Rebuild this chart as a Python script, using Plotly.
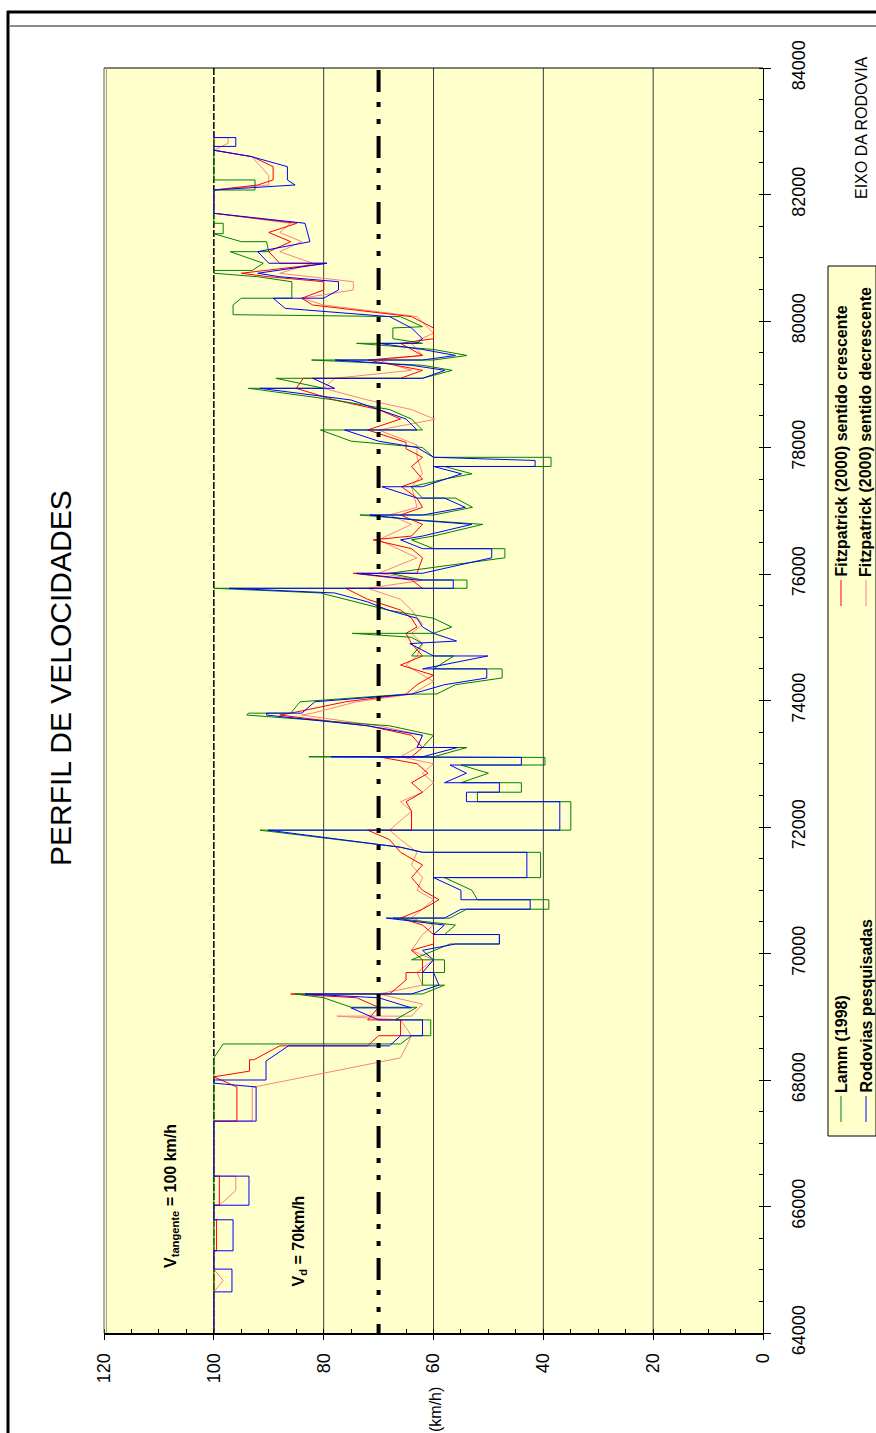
import plotly.graph_objects as go

W, H = 876, 1433
FONT = "Arial, Liberation Sans, sans-serif"

# ---------------- data ----------------
SPEED_TICKS = [0, 20, 40, 60, 80, 100, 120]
STATION_TICKS = list(range(64000, 84001, 2000))
GRID_SPEEDS = [20, 40, 60, 80]
V_TANGENTE = 100
V_D = 70

# (station m, speed km/h)
LAMM = [(64000,100),(68350,100),(68570,98.3),(68570,66),(68700,64),(68700,60.5),(68950,60.5),(68950,67),(69150,63),(69150,75),(69300,80),(69360,85.2),(69360,62),(69500,58),(69500,62),(69700,62),(69700,58),(69900,58),(69900,64),(70050,60),(70150,57),(70150,48),(70300,48),(70300,58),(70450,56),(70560,67.3),(70560,57),(70700,54),(70700,39),(70850,39),(70850,52),(71000,53),(71200,58),(71200,40.5),(71600,40.5),(71600,62),(71680,66),(71950,91.6),(71950,35),(72400,35),(72400,52),(72550,52),(72550,44),(72700,44),(72700,55),(72850,50),(72980,55),(72980,39.7),(73100,39.7),(73110,82.7),(73110,60),(73257,53.9),(73257,62),(73450,60),(73600,68),(73770,94),(73800,93.7),(73800,86),(73980,84.3),(74100,65),(74103,59.4),(74250,56),(74356,47.5),(74500,47.5),(74500,60),(74704,56.3),(74704,64),(74900,62),(75000,64),(75062,74.8),(75062,60),(75162,56.7),(75300,60),(75430,68.3),(75560,74),(75700,80.6),(75774,100),(75774,53.9),(75905,53.9),(75905,62),(76011,68),(76100,60),(76256,47),(76400,47),(76400,60),(76540,64),(76600,60),(76785,51),(76850,62),(76933,73.4),(76933,60),(77054,52.9),(77200,56),(77200,62),(77380,64),(77500,58),(77584,53),(77700,58),(77700,38.6),(77845,38.6),(77845,60),(78000,62),(78100,75),(78277,80.6),(78277,62),(78450,64),(78600,68),(78751,78),(78936,93.7),(78936,80),(79094,88.7),(79094,62),(79220,56.6),(79300,62),(79383,82.2),(79383,60),(79455,53.9),(79550,60),(79647,74),(79647,62),(79720,67.4),(79890,67.4),(79910,62),(80069,66),(80100,96.5),(80253,96.5),(80360,95),(80360,85.8),(80621,85.8),(80700,92),(80755,100),(80800,100),(80800,93),(80913,91),(81096,97),(81096,90),(81254,90.4),(81254,95),(81380,100),(81380,98.3),(81545,98.3),(81545,100),(82071,100),(82071,92.5),(82230,92.5),(82230,100),(82993,100)]

RODOVIAS = [(64000,100),(64650,100),(64650,96.7),(65010,96.7),(65010,100),(65300,100),(65300,96.5),(65790,96.5),(65790,100),(66020,100),(66020,93.6),(66480,93.6),(66480,100),(67350,100),(67350,92.3),(67890,92.3),(67950,100),(68000,100),(68000,90.5),(68300,90.5),(68540,86.4),(68540,68),(68700,66),(68700,62),(68950,62),(68950,70),(69140,75),(69140,64),(69300,70),(69360,83.4),(69360,64),(69500,59),(69700,60),(69700,62),(69900,60),(70050,62),(70150,56),(70150,48),(70300,48),(70300,60),(70450,58),(70560,68.6),(70560,58),(70700,55),(70700,42.4),(70850,42.4),(70850,55),(71000,55),(71200,60),(71200,43),(71600,43),(71600,62),(71680,66),(71950,90.1),(71950,37),(72400,37),(72400,54),(72550,54),(72550,48),(72700,48),(72700,58),(72850,54),(72980,57),(72980,44),(73100,44),(73110,78.6),(73110,62),(73257,55.6),(73257,63),(73450,62),(73600,72),(73770,90.4),(73800,90.4),(73800,84),(73980,81.6),(74100,64),(74250,58),(74356,50.3),(74500,50.3),(74500,62),(74704,50.1),(74704,60),(74900,64.3),(74940,55.8),(75062,60),(75162,62),(75300,63),(75430,68.3),(75560,72),(75700,78),(75774,97.2),(75774,56.4),(75905,56.4),(75905,63),(76011,74),(76011,62),(76256,49.4),(76400,49.4),(76400,62),(76540,66),(76600,62),(76785,53),(76850,63),(76933,71.6),(76933,62),(77054,54.2),(77200,58),(77200,63),(77380,69.4),(77380,62),(77584,54.9),(77700,60),(77700,41.5),(77795,41.5),(77845,60),(78000,63),(78100,70),(78277,76.2),(78277,63),(78450,65),(78600,70),(78751,75),(78936,91.6),(78936,78),(79094,82),(79094,62),(79220,57.9),(79300,64),(79383,77.9),(79383,62),(79455,56),(79550,62),(79647,70),(79647,63),(79720,62),(79890,64),(80069,68),(80200,87),(80360,89.2),(80360,80),(80490,77.3),(80621,77.3),(80700,88),(80755,92),(80913,79.4),(80913,90),(81096,92),(81254,82.5),(81545,83.4),(81703,100),(82071,100),(82150,85.2),(82230,86.6),(82440,86.6),(82598,93.1),(82700,100),(82760,100),(82760,96),(82900,96),(82900,100),(82993,100)]

FITZ_CRESC = [(64000,100),(65300,100),(65300,99.5),(65790,99.5),(65790,100),(66020,100),(66020,99),(66480,99),(66480,100),(67350,100),(67350,95.8),(67890,95.8),(68050,100),(68140,93.5),(68320,93.5),(68320,92.7),(68540,88),(68540,72),(68700,70),(68700,66),(68950,66),(68950,72),(69150,70),(69300,74),(69360,86),(69360,68),(69580,65),(69700,65),(69700,62),(69900,62),(70050,64),(70150,60),(70300,60),(70450,62),(70560,66),(70700,62),(70850,59),(71000,62),(71200,64),(71400,62),(71600,66),(71800,68),(71950,72),(71950,64),(72250,64),(72400,65),(72550,62),(72700,64),(72850,61),(73000,63),(73110,70),(73110,64),(73257,62),(73450,64),(73600,72),(73770,88),(73800,86),(73980,76),(74100,65),(74250,63),(74400,60),(74560,66),(74704,62),(74900,64),(75062,65),(75162,63),(75300,64),(75430,66),(75600,72),(75774,76),(75774,62),(75905,64),(76011,74.6),(76011,63),(76256,62),(76400,64),(76540,71),(76600,64),(76785,62),(76933,66),(77054,62),(77200,63),(77380,65.8),(77500,62),(77700,64),(77845,62),(77980,65),(78080,65),(78277,72),(78450,66),(78600,70),(78751,78),(78936,85),(79094,83.7),(79094,66),(79220,62),(79383,72),(79455,62),(79647,66),(79720,60),(79890,60),(80069,64),(80253,82),(80360,84),(80490,80),(80621,80),(80700,90),(80755,95),(80913,79.4),(80913,88),(81096,90),(81254,86),(81400,90),(81545,84.9),(81703,100),(82071,100),(82150,92),(82230,89.2),(82440,89.2),(82598,93),(82700,100),(82993,100)]

FITZ_DECR = [(64000,100),(64650,100),(64830,98.3),(65010,100),(66020,100),(66020,99),(66250,96),(66480,96),(66480,100),(67350,100),(67350,93),(67890,93),(67890,92.6),(68350,66),(68700,64),(68950,66),(69010,77.6),(69010,64),(69200,62),(69360,70),(69500,62),(69700,63),(69900,60),(70050,64),(70300,62),(70450,60),(70560,64),(70700,62),(70850,60),(71000,63),(71200,62),(71400,64),(71600,63),(71800,66),(71950,68),(72250,64),(72400,66),(72550,62),(72700,60),(72850,62),(73000,60),(73110,66),(73257,63),(73450,62),(73600,70),(73770,84),(73800,82),(73980,74),(74100,64),(74300,60),(74560,65),(74704,63),(74900,62),(75062,64),(75200,62),(75430,64),(75600,66),(75774,72),(75900,62),(76011,70),(76256,63),(76540,70),(76785,64),(76933,68),(77054,63),(77380,64),(77584,62),(77845,63),(78040,63),(78277,70),(78444,59.7),(78600,64),(78751,72),(78936,80),(79094,78),(79220,64),(79383,70),(79455,62),(79647,64),(79807,60),(80069,63),(80253,80),(80360,84),(80490,74.6),(80621,74.6),(80755,88),(80913,82),(81096,88),(81254,84),(81400,88),(81545,86),(81703,100),(82071,100),(82150,90),(82300,90),(82598,93.1),(82700,100),(82810,97.4),(82900,97.4),(82900,100),(82993,100)]

SERIES = [
    ("Fitzpatrick (2000) sentido decrescente", FITZ_DECR, "#FF8080"),
    ("Fitzpatrick (2000) sentido crescente", FITZ_CRESC, "#FF0000"),
    ("Lamm (1998)", LAMM, "#008000"),
    ("Rodovias pesquisadas", RODOVIAS, "#0000FF"),
]

# ---------------- layout helpers (pixel -> paper) ----------------
def px(x):
    return x / W

def py(y):
    return 1 - y / H

PX0, PX1 = 104, 763   # plot left/right (px)
PY0, PY1 = 68, 1333   # plot top/bottom (px)

fig = go.Figure()
for name, pts, col in SERIES:
    fig.add_trace(go.Scatter(
        x=[p[1] for p in pts], y=[p[0] for p in pts], mode="lines", name=name,
        line=dict(color=col, width=1), hoverinfo="skip"))

fig.update_layout(
    width=W, height=H, margin=dict(l=0, r=0, t=0, b=0, autoexpand=False),
    paper_bgcolor="white", plot_bgcolor="#FFFFCC", showlegend=False,
    font=dict(family=FONT, color="black"),
    xaxis=dict(domain=[px(PX0), px(PX1)], range=[120, 0], tickvals=SPEED_TICKS,
               ticks="outside", ticklen=5, tickcolor="black", tickangle=-90,
               tickfont=dict(family=FONT, size=18, color="black"), automargin=False,
               showgrid=False, zeroline=False, showline=True, linecolor="black", linewidth=2,
               minor=dict(ticks="inside", dtick=5, tick0=0, ticklen=4, tickcolor="black"),
               ticklabelstandoff=6),
    yaxis=dict(domain=[py(PY1), py(PY0)], range=[64000, 84000], side="right",
               tickvals=STATION_TICKS, tickformat="d", ticks="outside", ticklen=7,
               tickcolor="black", tickangle=-90, automargin=False,
               tickfont=dict(family=FONT, size=18, color="black"),
               showgrid=False, zeroline=False, showline=True, linecolor="black", linewidth=1,
               minor=dict(ticks="inside", dtick=500, tick0=64000, ticklen=4, tickcolor="black"),
               ticklabelstandoff=12),
)

shapes = []
# page frame
shapes.append(dict(type="line", xref="paper", yref="paper", x0=px(7), x1=1.0, y0=py(12), y1=py(12), line=dict(color="black", width=3)))
shapes.append(dict(type="line", xref="paper", yref="paper", x0=px(8), x1=px(8), y0=py(11), y1=0.0, line=dict(color="black", width=3)))
shapes.append(dict(type="line", xref="paper", yref="paper", x0=px(9), x1=1.0, y0=py(26), y1=py(26), line=dict(color="#8a8a8a", width=2)))
# plot frame
shapes.append(dict(type="line", xref="paper", yref="paper", x0=px(PX0), x1=px(PX1), y0=py(PY0), y1=py(PY0), line=dict(color="black", width=1)))
shapes.append(dict(type="line", xref="paper", yref="paper", x0=px(PX0), x1=px(PX0), y0=py(PY0), y1=py(PY1), line=dict(color="#606060", width=1)))
shapes.append(dict(type="line", xref="paper", yref="paper", x0=px(PX0 + 2.5), x1=px(PX0 + 2.5), y0=py(PY0), y1=py(PY1), line=dict(color="#a0a0a0", width=1)))
# grid lines
for g in GRID_SPEEDS:
    shapes.append(dict(type="line", xref="x", yref="paper", x0=g, x1=g, y0=py(PY1), y1=py(PY0),
                       line=dict(color="#3a3a3a", width=1), layer="below"))
# reference speeds
shapes.append(dict(type="line", xref="x", yref="paper", x0=V_TANGENTE, x1=V_TANGENTE, y0=py(PY0), y1=py(PY1),
                   line=dict(color="black", width=1.5, dash="7px,2px"), layer="below"))
shapes.append(dict(type="line", xref="x", yref="paper", x0=V_D, x1=V_D, y0=py(PY0 + 2), y1=py(PY1),
                   line=dict(color="black", width=4, dash="22px,10px,5px,12px,5px,12px")))

# legend box
LEG_X0, LEG_Y0, LEG_Y1 = 828, 266, 1136
shapes.append(dict(type="rect", xref="paper", yref="paper", x0=px(LEG_X0), x1=1.0, y0=py(LEG_Y1), y1=py(LEG_Y0),
                   line=dict(color="black", width=1), fillcolor="#FFFFCC"))
legend_items = [
    ("Lamm (1998)", "#008000", 841, 1122),
    ("Rodovias pesquisadas", "#0000FF", 866, 1122),
    ("Fitzpatrick (2000) sentido crescente", "#FF0000", 841, 606),
    ("Fitzpatrick (2000) sentido decrescente", "#FF8080", 866, 606),
]
annotations = []
for text, col, lx, ly in legend_items:
    shapes.append(dict(type="line", xref="paper", yref="paper", x0=px(lx), x1=px(lx), y0=py(ly), y1=py(ly - 26),
                       line=dict(color=col, width=1)))
    annotations.append(dict(text=f"<b>{text}</b>", xref="paper", yref="paper", x=px(lx), y=py(ly - 27),
                            xanchor="center", yanchor="bottom", textangle=-90, showarrow=False,
                            font=dict(family=FONT, size=16, color="black")))

annotations += [
    dict(text="PERFIL DE VELOCIDADES", xref="paper", yref="paper", x=px(61), y=py(678),
         xanchor="center", yanchor="middle", textangle=-90, showarrow=False,
         font=dict(family=FONT, size=30, color="black")),
    dict(text="<b>V<sub>tangente</sub> = 100 km/h</b>", xref="paper", yref="paper", x=px(171), y=py(1270),
         xanchor="center", yanchor="bottom", textangle=-90, showarrow=False,
         font=dict(family=FONT, size=16, color="black")),
    dict(text="<b>V<sub>d</sub> = 70km/h</b>", xref="paper", yref="paper", x=px(299), y=py(1289),
         xanchor="center", yanchor="bottom", textangle=-90, showarrow=False,
         font=dict(family=FONT, size=16, color="black")),
    dict(text="(km/h)", xref="paper", yref="paper", x=px(435), y=py(1410),
         xanchor="center", yanchor="middle", textangle=-90, showarrow=False,
         font=dict(family=FONT, size=16, color="black")),
    dict(text="EIXO DA RODOVIA", xref="paper", yref="paper", x=px(862), y=py(128),
         xanchor="center", yanchor="middle", textangle=-90, showarrow=False,
         font=dict(family=FONT, size=16, color="black")),
]

fig.update_layout(shapes=shapes, annotations=annotations)
fig.write_html("out.html")
